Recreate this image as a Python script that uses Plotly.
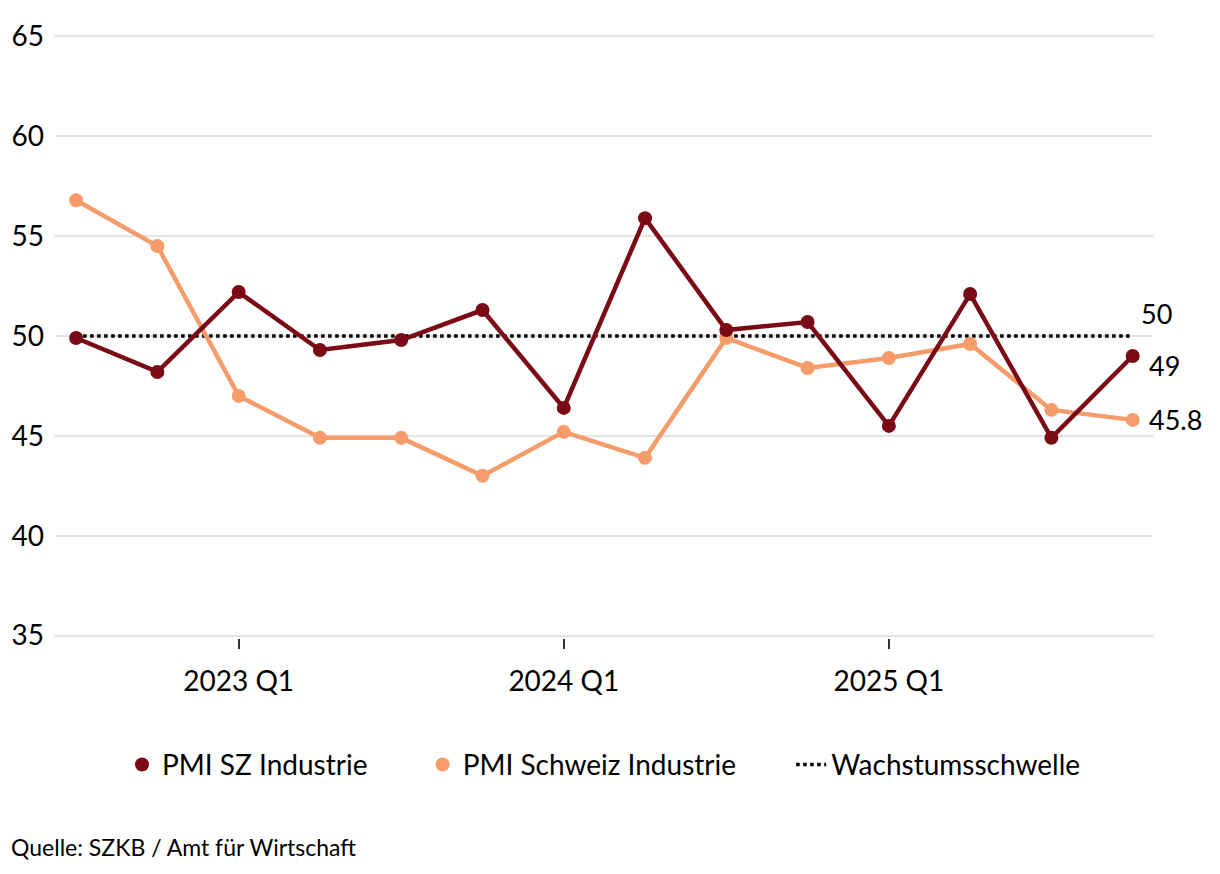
import plotly.graph_objects as go

quarters = ["2022 Q3", "2022 Q4", "2023 Q1", "2023 Q2", "2023 Q3", "2023 Q4", "2024 Q1",
            "2024 Q2", "2024 Q3", "2024 Q4", "2025 Q1", "2025 Q2", "2025 Q3", "2025 Q4"]
pmi_sz = [49.9, 48.2, 52.2, 49.3, 49.8, 51.3, 46.4, 55.9, 50.3, 50.7, 45.5, 52.1, 44.9, 49.0]
pmi_ch = [56.8, 54.5, 47.0, 44.9, 44.9, 43.0, 45.2, 43.9, 49.9, 48.4, 48.9, 49.6, 46.3, 45.8]
threshold = 50
tick_labels = ["2023 Q1", "2024 Q1", "2025 Q1"]
y_ticks = [35, 40, 45, 50, 55, 60, 65]

c_sz = "#7a0a15"
c_ch = "#f69c6a"
font = "Lato"
pad = "\u00a0" * 7

x = list(range(len(quarters)))
tickvals = [quarters.index(t) for t in tick_labels]

fig = go.Figure()
fig.add_trace(go.Scatter(x=[x[0], x[-1]], y=[threshold, threshold], mode="lines",
                         line=dict(color="black", width=3.5, dash="dot"), showlegend=False,
                         hoverinfo="skip"))
fig.add_trace(go.Scatter(x=x, y=pmi_ch, mode="lines+markers", name="PMI Schweiz Industrie",
                         line=dict(color=c_ch, width=4.5), marker=dict(size=14, color=c_ch),
                         showlegend=False))
fig.add_trace(go.Scatter(x=x, y=pmi_sz, mode="lines+markers", name="PMI SZ Industrie",
                         line=dict(color=c_sz, width=4.5), marker=dict(size=14, color=c_sz),
                         showlegend=False))
# legend entries
fig.add_trace(go.Scatter(x=[None], y=[None], mode="markers", name="PMI SZ Industrie" + pad,
                         marker=dict(size=14, color=c_sz)))
fig.add_trace(go.Scatter(x=[None], y=[None], mode="markers", name="PMI Schweiz Industrie" + pad,
                         marker=dict(size=14, color=c_ch)))
fig.add_trace(go.Scatter(x=[None], y=[None], mode="lines", name="Wachstumsschwelle",
                         line=dict(color="black", width=3.5, dash="dot")))

# end labels
fig.add_annotation(x=x[-1], y=pmi_sz[-1], text=f"{pmi_sz[-1]:g}", xanchor="left", showarrow=False,
                   xshift=14, yshift=-10, font=dict(size=27, color="black", family=font))
fig.add_annotation(x=x[-1], y=pmi_ch[-1], text=f"{pmi_ch[-1]:g}", xanchor="left", showarrow=False,
                   xshift=14, font=dict(size=27, color="black", family=font))
fig.add_annotation(x=x[-1], y=threshold, text=f"{threshold}", xanchor="left", yanchor="bottom",
                   showarrow=False, xshift=6, yshift=4, font=dict(size=27, color="black", family=font))

fig.add_annotation(x=-0.042, y=-0.346, xref="paper", yref="paper", xanchor="left", yanchor="middle",
                   text="Quelle: SZKB / Amt für Wirtschaft", showarrow=False,
                   font=dict(size=23, color="black", family=font))

fig.update_layout(
    width=1212, height=866,
    margin=dict(l=47, r=67, t=25.6, b=235.6, autoexpand=False),
    paper_bgcolor="white", plot_bgcolor="white",
    font=dict(family=font, size=28, color="black"),
    xaxis=dict(range=[-0.26, 13.25], tickmode="array", tickvals=tickvals, ticktext=tick_labels,
               showgrid=False, zeroline=False, showline=False, ticks="outside", ticklen=10,
               tickwidth=2, tickcolor="#333", ticklabelstandoff=8, tickfont=dict(size=28),
               automargin=False),
    yaxis=dict(range=[34.88, 65.12], tickvals=y_ticks, showgrid=True, gridcolor="#e3e3e3", gridwidth=2,
               zeroline=False, showline=False, ticks="", ticklabelstandoff=10,
               tickfont=dict(size=28), automargin=False),
    legend=dict(orientation="h", x=0.5, xanchor="center", y=-0.210, yanchor="middle",
                font=dict(size=28), itemwidth=30, tracegroupgap=0),
)

fig.write_html("out.html")
